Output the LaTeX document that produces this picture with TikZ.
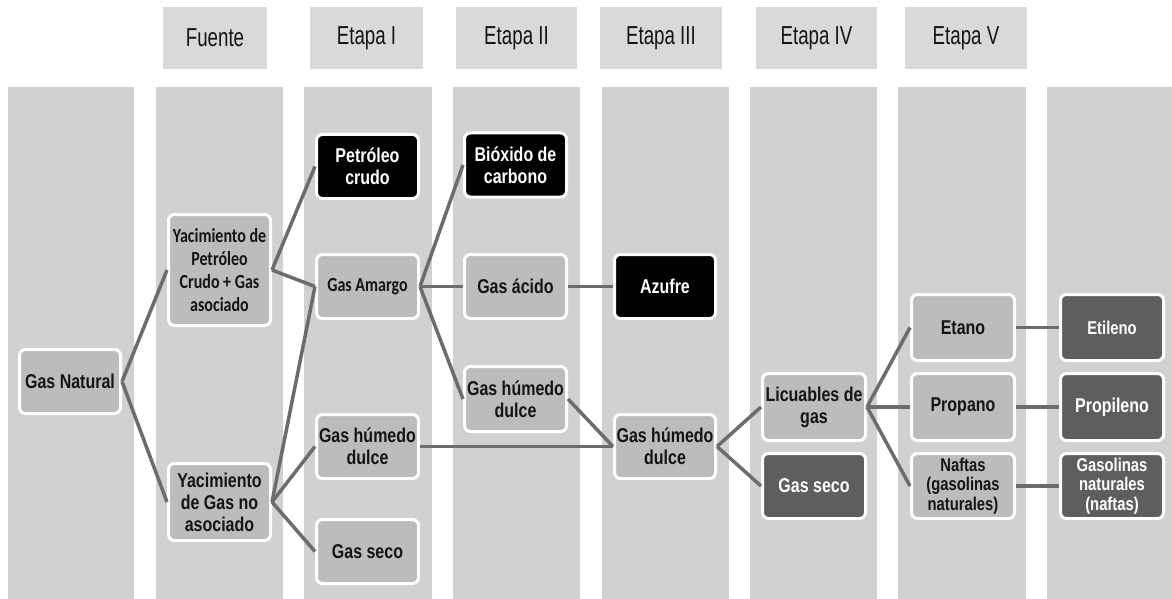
\documentclass[tikz,border=0pt]{standalone}
\usepackage{fontspec}
\newfontfamily\hfont[FakeStretch=0.72]{Liberation Sans}
\newfontfamily\bfont[FakeStretch=0.8]{Liberation Sans}
\newfontfamily\cfont[FakeStretch=0.8]{Carlito}
\definecolor{colbg}{HTML}{D1D1D1}
\definecolor{hdrbg}{HTML}{D9D9D9}
\definecolor{lightbox}{HTML}{BCBCBC}
\definecolor{darkbox}{HTML}{5E5E5E}
\definecolor{linec}{HTML}{6C6C6C}
\definecolor{txt}{HTML}{141414}
\begin{document}
\begin{tikzpicture}[x=1pt,y=-1pt,
  box/.style={draw=white, line width=3pt, rounded corners=6pt,
    minimum width=102pt, minimum height=64pt, inner sep=0pt, align=center,
    font=\bfont\bfseries\fontsize{20}{22}\selectfont},
  lt/.style={box, fill=lightbox, text=txt},
  dk/.style={box, fill=darkbox, text=white},
  bk/.style={box, fill=black, text=white},
  cal/.style={font=\cfont\bfseries\fontsize{20}{23}\selectfont},
  small/.style={font=\bfont\bfseries\fontsize{18.5}{19.5}\selectfont},
  conn/.style={draw=linec, line width=3.5pt},
  hdr/.style={fill=hdrbg, inner sep=0pt, minimum height=62pt,
    font=\hfont\fontsize{26}{28}\selectfont, text=txt},
  colband/.style={fill=colbg},
]
\useasboundingbox (0,0) rectangle (1172,599);
\fill[white] (0,0) rectangle (1172,599);

% column bands
\fill[colband] (8,87) rectangle (134,599);
\fill[colband] (156,87) rectangle (283,599);
\fill[colband] (304,87) rectangle (432,599);
\fill[colband] (453,87) rectangle (580,599);
\fill[colband] (602,87) rectangle (729,599);
\fill[colband] (750,87) rectangle (877,599);
\fill[colband] (898,87) rectangle (1026,599);
\fill[colband] (1047,87) rectangle (1172,599);

% headers
\node[hdr, minimum width=104pt] (hF) at (215,38) {Fuente};
\node[hdr, minimum width=113pt] (h1) at (366.5,38) {Etapa I};
\node[hdr, minimum width=121pt] (h2) at (516.5,38) {Etapa II};
\node[hdr, minimum width=122pt] (h3) at (661,38) {Etapa III};
\node[hdr, minimum width=121pt] (h4) at (816.5,38) {Etapa IV};
\node[hdr, minimum width=122pt] (h5) at (966,38) {Etapa V};

% nodes
\node[lt, minimum width=101pt] (gn) at (70,381.5) {Gas Natural};
\node[lt, cal, minimum height=111pt] (yac1) at (219.5,270) {Yacimiento de\\Petróleo\\Crudo + Gas\\asociado};
\node[lt, minimum height=77pt] (yac2) at (219.5,502) {Yacimiento\\de Gas no\\asociado};
\node[bk] (pc) at (367.5,166.5) {Petróleo\\crudo};
\node[lt, cal] (ga) at (367.5,286.5) {Gas Amargo};
\node[lt] (ghd1) at (367.5,446.5) {Gas húmedo\\dulce};
\node[lt] (gs1) at (367.5,551.5) {Gas seco};
\node[bk] (bc) at (515.5,165) {Bióxido de\\carbono};
\node[lt] (gac) at (515.5,286.5) {Gas ácido};
\node[lt, minimum height=65pt] (ghd2) at (515.5,399) {Gas húmedo\\dulce};
\node[bk, minimum width=101pt] (az) at (665,286.5) {Azufre};
\node[lt, minimum width=101pt] (ghd3) at (665,446.5) {Gas húmedo\\dulce};
\node[lt, minimum width=103pt, minimum height=67pt] (lic) at (814,407) {Licuables de\\gas};
\node[dk, minimum width=103pt, minimum height=65pt] (gs2) at (814,486) {Gas seco};
\node[lt, minimum width=103pt, minimum height=66pt] (et) at (963,327.5) {Etano};
\node[lt, minimum width=103pt, minimum height=67pt] (pr) at (963,407) {Propano};
\node[lt, small, minimum width=103pt, minimum height=65pt] (nf) at (963,486) {Naftas\\(gasolinas\\naturales)};
\node[dk, minimum width=103pt, minimum height=66pt, font=\bfont\bfseries\fontsize{18.5}{20}\selectfont] (eti) at (1112,327.5) {Etileno};
\node[dk, minimum width=103pt, minimum height=67pt] (pro) at (1112,407) {Propileno};
\node[dk, small, minimum width=103pt, minimum height=65pt] (gna) at (1112,486) {Gasolinas\\naturales\\(naftas)};

% connectors
\draw[conn] (gn.east) -- (yac1.west);
\draw[conn] (gn.east) -- (yac2.west);
\draw[conn] (yac1.east) -- (pc.west);
\draw[conn] (yac1.east) -- (ga.west);
\draw[conn] (yac2.east) -- (ga.west);
\draw[conn] (yac2.east) -- (ghd1.west);
\draw[conn] (yac2.east) -- (gs1.west);
\draw[conn] (ga.east) -- (bc.west);
\draw[conn] (ga.east) -- (gac.west);
\draw[conn] (ga.east) -- (ghd2.west);
\draw[conn] (gac.east) -- (az.west);
\draw[conn] (ghd2.east) -- (ghd3.west);
\draw[conn] (ghd1.east) -- (ghd3.west);
\draw[conn] (ghd3.east) -- (lic.west);
\draw[conn] (ghd3.east) -- (gs2.west);
\draw[conn] (lic.east) -- (et.west);
\draw[conn] (lic.east) -- (pr.west);
\draw[conn] (lic.east) -- (nf.west);
\draw[conn] (et.east) -- (eti.west);
\draw[conn] (pr.east) -- (pro.west);
\draw[conn] (nf.east) -- (gna.west);
\end{tikzpicture}
\end{document}
